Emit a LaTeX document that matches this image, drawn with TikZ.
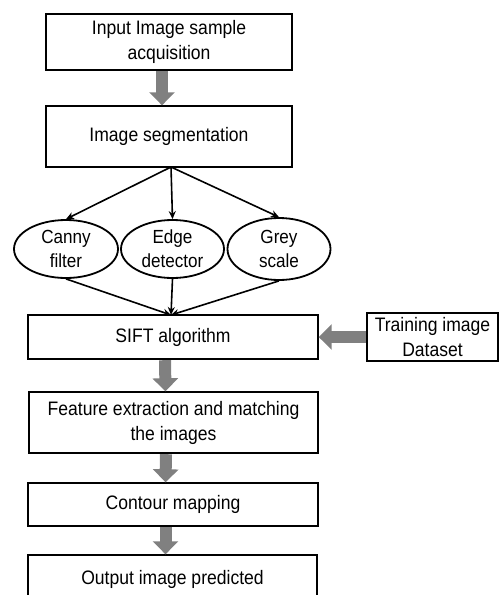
\documentclass[tikz,border=0pt]{standalone}
\usepackage{fontspec}
\setmainfont[FakeStretch=0.9]{Liberation Sans}
\usetikzlibrary{arrows.meta,shapes.geometric}
\definecolor{arrowgray}{RGB}{128,128,128}
\tikzset{
  box/.style={draw=black, line width=2.4pt, rectangle, align=center, inner sep=0pt,
    font=\fontsize{19.5}{25}\selectfont},
  oval/.style={draw=black, line width=1.8pt, ellipse, align=center, inner sep=0pt,
    font=\fontsize{19}{24}\selectfont},
  thin/.style={draw=black, line width=1.6pt, -{Stealth[length=8pt,width=7pt]}},
  fat/.style={draw=arrowgray, line width=12pt, -{Triangle[length=13pt,width=25pt]}, shorten >=-0.5pt},
}
\begin{document}
\begin{tikzpicture}[x=1pt,y=-1pt]
\useasboundingbox (0,0) rectangle (500,595);
\fill[white] (0,0) rectangle (500,595);
% boxes
\node[box, minimum width=246pt, minimum height=56pt] (input) at (169,42) {Input Image sample\\acquisition};
\node[box, minimum width=246pt, minimum height=61pt] (seg) at (169,136.5) {Image segmentation};
\node[oval, minimum width=104pt, minimum height=58pt] (canny) at (66,249) {Canny\\filter};
\node[oval, minimum width=103pt, minimum height=58pt] (edge) at (172.5,249) {Edge\\detector};
\node[oval, minimum width=103pt, minimum height=62pt] (grey) at (279,249) {Grey\\scale};
\node[box, minimum width=290pt, minimum height=44pt] (sift) at (173,337) {SIFT algorithm};
\node[box, minimum width=131pt, minimum height=48pt] (train) at (432.5,337) {Training image\\Dataset};
\node[box, minimum width=289pt, minimum height=61pt] (feat) at (173.5,422.5) {Feature extraction and matching\\the images};
\node[box, minimum width=290pt, minimum height=43pt] (cont) at (173,504.5) {Contour mapping};
\node[box, minimum width=289pt, minimum height=70pt] (out) at (172.5,590) {};
\node[font=\fontsize{19.5}{25}\selectfont, anchor=base] (outtext) at (172.5,584) {Output image predicted};
% thin connectors
\coordinate (split) at (171,167);
\coordinate (join) at (171,315);
\draw[thin] (split) -- (canny.north);
\draw[thin] (split) -- (edge.north);
\draw[thin] (split) -- (grey.north);
\draw[thin] (canny.south) -- (join);
\draw[thin] (edge.south) -- (join);
\draw[thin] (grey.south) -- (join);
% fat grey arrows
\draw[fat] ([xshift=-7pt]input.south) -- ([xshift=-7pt]seg.north);
\draw[fat] ([xshift=-8pt]sift.south) -- ([xshift=-8pt]feat.north);
\draw[fat] ([xshift=-7.5pt]feat.south) -- ([xshift=-7.5pt]cont.north);
\draw[fat] ([xshift=-7.5pt]cont.south) -- ([xshift=-7.5pt]cont.south |- out.north);
\draw[fat] (train.west) -- (sift.east);
\end{tikzpicture}
\end{document}
